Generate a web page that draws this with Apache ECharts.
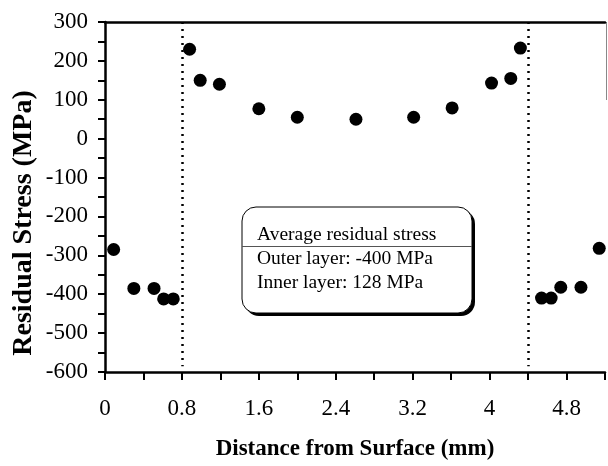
<!DOCTYPE html>
<html>
<head>
<meta charset="utf-8">
<script src="https://cdn.jsdelivr.net/npm/echarts@6/dist/echarts.min.js"></script>
<style>html,body{margin:0;padding:0;background:#fff;}#c{width:608px;height:466px;}</style>
</head>
<body>
<div id="c"></div>
<script>
// Data
const distance = [0.09, 0.30, 0.51, 0.61, 0.71, 0.88, 0.99, 1.19, 1.60, 2.00, 2.61, 3.21, 3.61, 4.02, 4.22, 4.32, 4.54, 4.64, 4.74, 4.95, 5.14];
const stress   = [-285, -385, -385, -412, -412, 230, 150, 140, 77, 55, 50, 55, 79, 143, 155, 233, -410, -410, -382, -382, -282];
const boundaryX = [0.8, 4.4];
const yTicks = [300, 200, 100, 0, -100, -200, -300, -400, -500, -600];
const xTickLabels = ['0', '0.8', '1.6', '2.4', '3.2', '4', '4.8'];
const xTitle = 'Distance from Surface (mm)';
const yTitle = 'Residual Stress (MPa)';
const noteLines = ['Average residual stress', 'Outer layer: -400 MPa', 'Inner layer: 128 MPa'];

const serif = '"Liberation Serif", "Times New Roman", Times, serif';
const points = distance.map((d, i) => [d, stress[i]]);
const chart = echarts.init(document.getElementById('c'), null, {renderer: 'canvas'});

const boxL = 242, boxT = 207, boxW = 230, boxH = 106;

chart.setOption({
  animation: false,
  backgroundColor: '#fff',
  textStyle: {fontFamily: serif},
  grid: {left: 105, top: 22, right: 2, bottom: 89, containLabel: false},
  xAxis: [{
    type: 'value', min: 0, max: 5.2, interval: 0.4,
    name: xTitle, nameLocation: 'middle', nameGap: 66,
    nameTextStyle: {fontFamily: serif, fontWeight: 'bold', fontSize: 23, color: '#000'},
    axisLine: {show: true, onZero: false, lineStyle: {color: '#000', width: 2.5}},
    axisTick: {show: true, inside: false, length: 8, lineStyle: {color: '#000', width: 2}},
    axisLabel: {
      fontFamily: serif, fontSize: 23, color: '#000', margin: 25,
      formatter: v => {
        const k = Math.round(v / 0.4);
        if (k % 2 !== 0) return '';
        const lab = xTickLabels[k / 2];
        return lab === undefined ? '' : lab;
      }
    },
    splitLine: {show: false}
  }, {
    type: 'value', min: 0, max: 5.2, position: 'top',
    axisLine: {show: true, onZero: false, lineStyle: {color: '#000', width: 2.5}},
    axisTick: {show: false}, axisLabel: {show: false}, splitLine: {show: false}
  }],
  yAxis: {
    type: 'value', min: -600, max: 300, interval: 100,
    axisLine: {show: true, onZero: false, lineStyle: {color: '#000', width: 2.5}},
    axisTick: {show: true, length: 7, lineStyle: {color: '#000', width: 2}},
    minorTick: {show: true, splitNumber: 2, length: 7, lineStyle: {color: '#000', width: 2}},
    axisLabel: {fontFamily: serif, fontSize: 23, color: '#000', margin: 17,
      formatter: v => (yTicks.indexOf(v) >= 0 ? String(v) : '')},
    splitLine: {show: false}
  },
  series: [{
    type: 'scatter',
    data: points,
    symbol: 'circle', symbolSize: 13,
    itemStyle: {color: '#000', opacity: 1},
    markLine: {
      silent: true, symbol: ['none', 'none'], label: {show: false},
      lineStyle: {type: [2, 5], color: '#000', width: 2.5, opacity: 1},
      data: boundaryX.map(x => [{coord: [x, 300]}, {coord: [x, -585]}])
    }
  }],
  graphic: [
    {type: 'text', x: 24, y: 223, rotation: Math.PI / 2,
      style: {text: yTitle, font: 'bold 28px ' + serif, fill: '#000', align: 'center', verticalAlign: 'middle'}},
    {type: 'rect', shape: {x: boxL + 3, y: boxT + 3, width: boxW, height: boxH, r: 14}, style: {fill: '#000'}},
    {type: 'rect', shape: {x: boxL, y: boxT, width: boxW, height: boxH, r: 14}, style: {fill: '#fff', stroke: '#000', lineWidth: 1}},
    {type: 'line', shape: {x1: boxL, y1: 246.5, x2: boxL + boxW, y2: 246.5}, style: {stroke: '#555', lineWidth: 1}},
    {type: 'text', x: 257, y: 235, style: {text: noteLines[0], font: '19.5px ' + serif, fill: '#000', verticalAlign: 'middle'}},
    {type: 'text', x: 257, y: 259, style: {text: noteLines[1], font: '19.5px ' + serif, fill: '#000', verticalAlign: 'middle'}},
    {type: 'text', x: 257, y: 283, style: {text: noteLines[2], font: '19.5px ' + serif, fill: '#000', verticalAlign: 'middle'}},
    {type: 'line', shape: {x1: 606.5, y1: 22, x2: 606.5, y2: 100}, style: {stroke: '#888', lineWidth: 1}}
  ]
});
</script>
</body>
</html>
